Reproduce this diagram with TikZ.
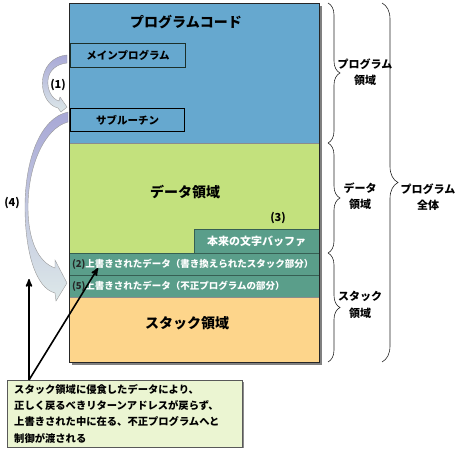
\documentclass[tikz,border=0pt]{standalone}
\usepackage{fontspec}
\setmainfont{Noto Sans CJK JP}
\usetikzlibrary{arrows,positioning,decorations.pathreplacing}

\definecolor{codeblue}{HTML}{66A8CF}
\definecolor{datagreen}{HTML}{C3E17D}
\definecolor{slotteal}{HTML}{5A9E8A}
\definecolor{stackorange}{HTML}{FDD58B}
\definecolor{notegreen}{HTML}{EBF5D2}
\definecolor{jumplav}{HTML}{A8A8D6}
\definecolor{jumppale}{HTML}{DDE8E9}

\begin{document}
\begin{tikzpicture}[x=1pt,y=-1pt,>=stealth',
  area/.style={draw=black!45,minimum width=250pt,inner sep=0pt,outer sep=0pt},
  slot/.style={area,fill=slotteal,draw=slotteal!60!black,text=white,
    font=\fontsize{9.5}{11}\selectfont\bfseries,align=left,text width=244pt,inner xsep=3pt},
  progbox/.style={draw,line width=1pt,anchor=north west,inner sep=0pt,
    font=\fontsize{10.5}{12}\selectfont\bfseries},
  title/.style={font=\fontsize{14}{16}\selectfont\bfseries},
  step label/.style={font=\fontsize{11}{12}\selectfont\bfseries},
  bracelabel/.style={align=center,font=\fontsize{11}{16.5}\selectfont\bfseries},
  brace/.style={decorate,decoration={brace,amplitude=#1},black!85,line width=0.6pt},
  jump/.style={draw=black!40,line width=0.4pt,top color=jumplav,bottom color=jumppale},
  pointer/.style={->,line width=1.6pt,shorten >=0pt}]

  \useasboundingbox (0,0) rectangle (460,450);

  % memory column
  \fill[black!50] (72,6) rectangle (322,365);
  \node[area,anchor=north west,fill=codeblue,minimum height=140pt] (code) at (69,3) {};
  \node[area,fill=datagreen,minimum height=110pt] (data) [below=0pt of code] {};
  \node[slot,minimum height=22pt] (over2) [below=0pt of data]
        {\textcolor{black!85}{(2)}上書きされたデータ（書き換えられたスタック部分）};
  \node[slot,minimum height=22pt] (over5) [below=0pt of over2]
        {\textcolor{black!85}{(5)}上書きされたデータ（不正プログラムの部分）};
  \node[area,fill=stackorange,minimum height=65pt] (stack) [below=0pt of over5] {};
  \node[area,fill=slotteal,draw=slotteal!60!black,text=white,minimum width=125pt,minimum height=24pt,
        anchor=south east,font=\fontsize{11}{12}\selectfont\bfseries] (buf) at (data.south east) {本来の文字バッファ};
  \draw[black!85,line width=0.9pt] (code.north west) rectangle (stack.south east);

  \node[title] (codetitle) at (186,22) {プログラムコード};
  \node[title] (datatitle) at (185,192) {データ領域};
  \node[title] (stacktitle) at (187,323) {スタック領域};

  \node[progbox,draw=black!70!slotteal,minimum width=115pt,minimum height=24pt] (main) at (70,43) {メインプログラム};
  \node[progbox,minimum width=114pt,minimum height=23pt] (sub) at (70,108) {サブルーチン};

  % jumps
  \path[jump] (67,55) .. controls (45,57) and (38,80) .. (45,96)
    .. controls (48,103) and (53,107) .. (58,108) -- (61,112) -- (67,107) -- (60,97) -- (59,101)
    .. controls (52,99) and (47,90) .. (48,80) .. controls (49,70) and (57,64) .. (67,63) -- cycle;
  \path[jump] (68,112) .. controls (40,118) and (25,160) .. (25,207)
    .. controls (25,250) and (35,288) .. (55,293) -- (56,301) -- (67,283) -- (55,260) -- (55,268)
    .. controls (38,262) and (28,240) .. (28,207) .. controls (28,165) and (45,128) .. (68,122) -- cycle;

  \node[step label] (s1) at (58,85) {(1)};
  \node[step label] (s4) at (12,203) {(4)};
  \node[step label] (s3) at (278,218) {(3)};

  % braces
  \draw[brace=12pt] (328,3) -- (328,143);
  \draw[brace=12pt] (328,143) -- (328,253);
  \draw[brace=12pt] (328,253) -- (328,362);
  \draw[brace=16pt] (382,3) -- (382,362);
  \node[bracelabel] (codearea) at (365,72) {プログラム\\領域};
  \node[bracelabel] (dataarea) at (360,196) {データ\\領域};
  \node[bracelabel] (stackarea) at (360,305) {スタック\\領域};
  \node[bracelabel] (whole) at (428,197) {プログラム\\全体};

  % note
  \fill[black!45] (9,382) rectangle (244,448);
  \node[draw=black!65,fill=notegreen,anchor=north west,minimum width=235pt,minimum height=66pt,
        text width=221pt,inner xsep=7pt,inner ysep=4pt,align=left,
        font=\fontsize{10.3}{16.3}\selectfont\bfseries] (note) at (7,380)
        {スタック領域に侵食したデータにより、\\正しく戻るべきリターンアドレスが戻らず、\\上書きされた中に在る、不正プログラムへと\\制御が渡される};

  \coordinate (fromnote) at (29,380);
  \coordinate (retaddr) at (29,279);
  \coordinate (overtext) at (98,268);
  \draw[pointer] (fromnote) -- (retaddr);
  \draw[pointer] (fromnote) -- (overtext);

\end{tikzpicture}
\end{document}
